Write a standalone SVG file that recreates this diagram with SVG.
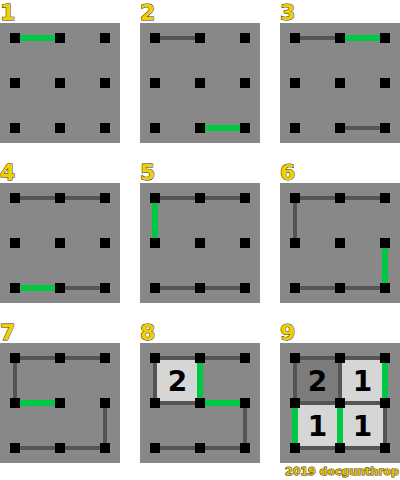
<svg xmlns="http://www.w3.org/2000/svg" xmlns:xlink="http://www.w3.org/1999/xlink" width="400" height="480" viewBox="0 0 400 480">
<style>
.bg{fill:#888888}
.ln{stroke:#555555;stroke-width:4;fill:none}
.gr{stroke:#00c844;stroke-width:6;fill:none}
.lbl{font-family:"DejaVu Sans",sans-serif;font-weight:bold;font-size:22px;fill:#f2d000;stroke:#333;stroke-width:1;paint-order:stroke}
.num{font-family:"DejaVu Sans",sans-serif;font-weight:bold;font-size:28px;fill:#000;text-anchor:middle}
.lt{fill:#d6d6d6}
.dk{fill:#7c7c7c}
.credit{font-family:"DejaVu Sans",sans-serif;font-weight:bold;font-size:11px;fill:#e6be00;stroke:#333;stroke-width:1;paint-order:stroke;text-anchor:end}
</style>
<defs>
<g id="dots" fill="#000">
<rect x="10" y="10" width="10" height="10"/><rect x="55" y="10" width="10" height="10"/><rect x="100" y="10" width="10" height="10"/>
<rect x="10" y="55" width="10" height="10"/><rect x="55" y="55" width="10" height="10"/><rect x="100" y="55" width="10" height="10"/>
<rect x="10" y="100" width="10" height="10"/><rect x="55" y="100" width="10" height="10"/><rect x="100" y="100" width="10" height="10"/>
</g>
</defs>

<g id="panel1" transform="translate(0,23)">
<rect class="bg" width="120" height="120"/>
<text class="lbl" x="0" y="-3">1</text>
<g id="connectors1"><path class="gr" d="M15 15H60"/></g>
<use xlink:href="#dots"/>
</g>

<g id="panel2" transform="translate(140,23)">
<rect class="bg" width="120" height="120"/>
<text class="lbl" x="0" y="-3">2</text>
<g id="connectors2"><path class="ln" d="M15 15H60"/><path class="gr" d="M60 105H105"/></g>
<use xlink:href="#dots"/>
</g>

<g id="panel3" transform="translate(280,23)">
<rect class="bg" width="120" height="120"/>
<text class="lbl" x="0" y="-3">3</text>
<g id="connectors3"><path class="ln" d="M15 15H60M60 105H105"/><path class="gr" d="M60 15H105"/></g>
<use xlink:href="#dots"/>
</g>

<g id="panel4" transform="translate(0,183)">
<rect class="bg" width="120" height="120"/>
<text class="lbl" x="0" y="-3">4</text>
<g id="connectors4"><path class="ln" d="M15 15H105M60 105H105"/><path class="gr" d="M15 105H60"/></g>
<use xlink:href="#dots"/>
</g>

<g id="panel5" transform="translate(140,183)">
<rect class="bg" width="120" height="120"/>
<text class="lbl" x="0" y="-3">5</text>
<g id="connectors5"><path class="ln" d="M15 15H105M15 105H105"/><path class="gr" d="M15 15V60"/></g>
<use xlink:href="#dots"/>
</g>

<g id="panel6" transform="translate(280,183)">
<rect class="bg" width="120" height="120"/>
<text class="lbl" x="0" y="-3">6</text>
<g id="connectors6"><path class="ln" d="M15 15H105M15 15V60M15 105H105"/><path class="gr" d="M105 60V105"/></g>
<use xlink:href="#dots"/>
</g>

<g id="panel7" transform="translate(0,343)">
<rect class="bg" width="120" height="120"/>
<text class="lbl" x="0" y="-3">7</text>
<g id="connectors7"><path class="ln" d="M15 15H105M15 15V60M105 60V105M15 105H105"/><path class="gr" d="M15 60H60"/></g>
<use xlink:href="#dots"/>
</g>

<g id="panel8" transform="translate(140,343)">
<rect class="bg" width="120" height="120"/>
<text class="lbl" x="0" y="-3">8</text>
<rect class="lt" x="15" y="15" width="45" height="45"/>
<text class="num" x="37.5" y="48">2</text>
<g id="connectors8"><path class="ln" d="M15 15H105M15 15V60M15 60H60M105 60V105M15 105H105"/><path class="gr" d="M60 15V60H105"/></g>
<use xlink:href="#dots"/>
</g>

<g id="panel9" transform="translate(280,343)">
<rect class="bg" width="120" height="120"/>
<text class="lbl" x="0" y="-3">9</text>
<rect class="dk" x="15" y="15" width="45" height="45"/>
<rect class="lt" x="60" y="15" width="45" height="45"/>
<rect class="lt" x="15" y="60" width="45" height="45"/>
<rect class="lt" x="60" y="60" width="45" height="45"/>
<text class="num" x="37.5" y="48">2</text>
<text class="num" x="82.5" y="48">1</text>
<text class="num" x="37.5" y="93">1</text>
<text class="num" x="82.5" y="93">1</text>
<g id="connectors9"><path class="ln" d="M15 15H105M15 15V60M60 15V60M15 60H105M105 60V105M15 105H105"/><path class="gr" d="M105 15V60M15 60V105M60 60V105"/></g>
<use xlink:href="#dots"/>
</g>

<text class="credit" x="399" y="475">2019 docgunthrop</text>
</svg>
